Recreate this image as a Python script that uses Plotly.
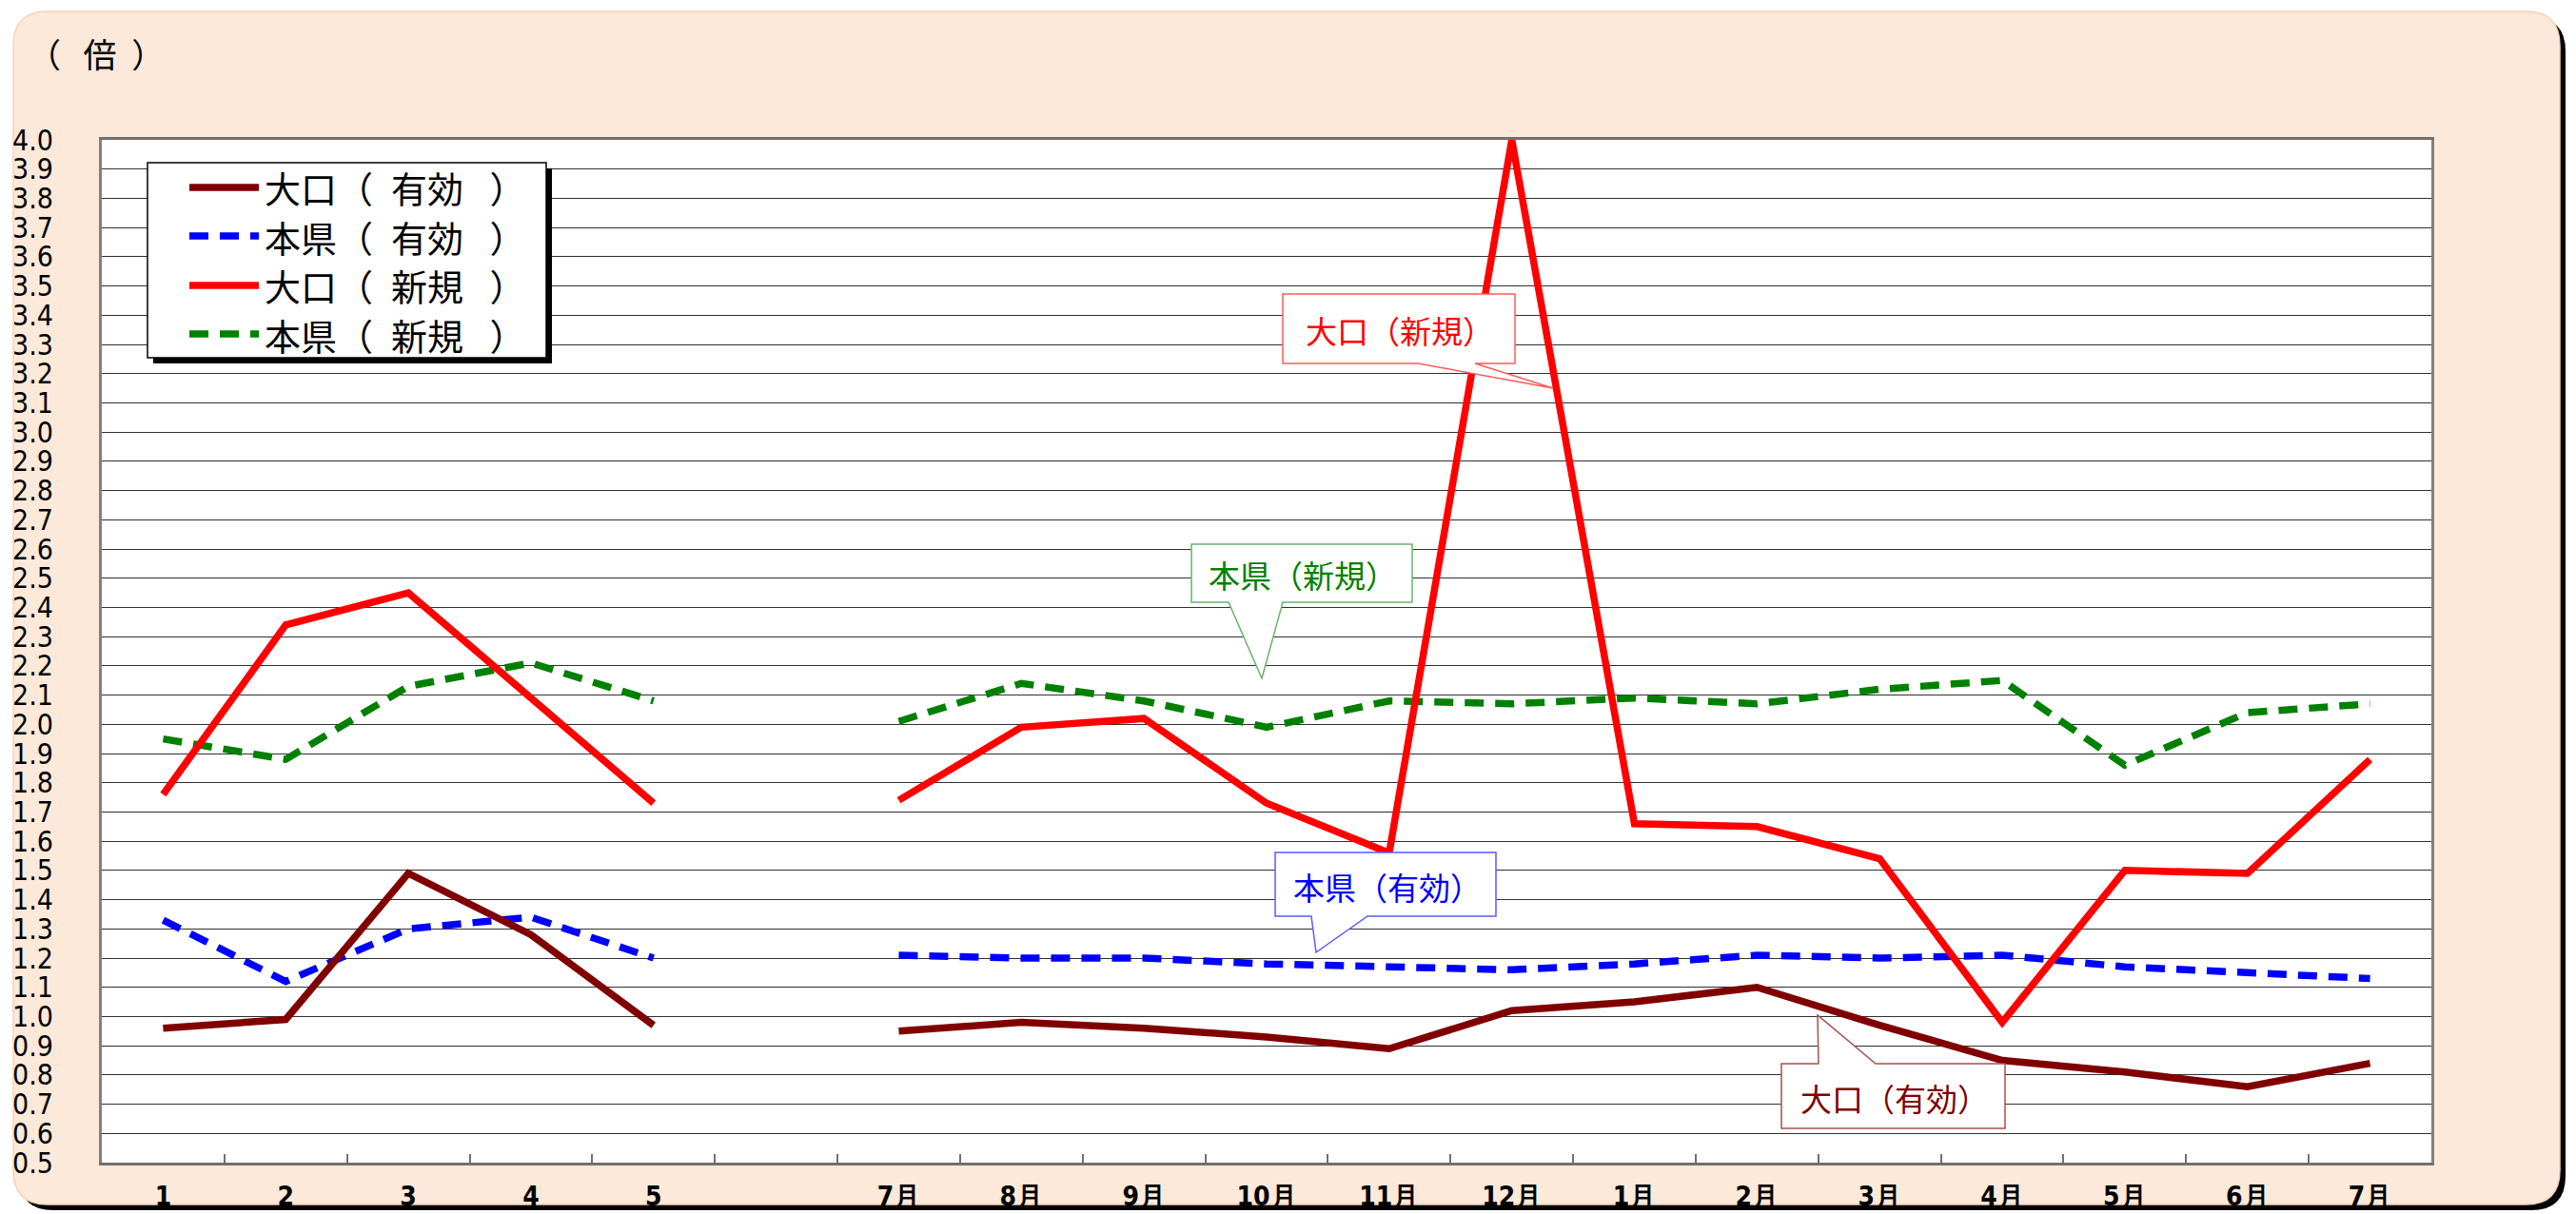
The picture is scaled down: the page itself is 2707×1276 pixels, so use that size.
import plotly.graph_objects as go

# ---------------- data ----------------
x_labels = ["1", "2", "3", "4", "5", "", "7月", "8月", "9月", "10月", "11月", "12月",
            "1月", "2月", "3月", "4月", "5月", "6月", "7月"]

oguchi_yuko = [0.96, 0.99, 1.49, 1.28, 0.97, None, 0.95, 0.98, 0.96, 0.93, 0.89, 1.02,
               1.05, 1.10, 0.97, 0.85, 0.81, 0.76, 0.84]
honken_yuko = [1.33, 1.12, 1.30, 1.34, 1.20, None, 1.21, 1.20, 1.20, 1.18, 1.17, 1.16,
               1.18, 1.21, 1.20, 1.21, 1.17, 1.15, 1.13]
oguchi_shinki = [1.76, 2.34, 2.45, 2.09, 1.73, None, 1.74, 1.99, 2.02, 1.73, 1.56, 4.00,
                 1.66, 1.65, 1.54, 0.98, 1.50, 1.49, 1.88]
honken_shinki = [1.95, 1.88, 2.13, 2.21, 2.08, None, 2.01, 2.14, 2.08, 1.99, 2.08, 2.07,
                 2.09, 2.07, 2.12, 2.15, 1.86, 2.04, 2.07]

series_names = ["大口（\u2002有効\u2002\u00a0）", "本県（\u2002有効\u2002\u00a0）",
                "大口（\u2002新規\u2002\u00a0）", "本県（\u2002新規\u2002\u00a0）"]
callout_texts = ["大口（新規）", "本県（新規）", "本県（有効）", "大口（有効）"]
unit_label = "（\u00a0\u00a0\u00a0倍\u00a0\u00a0）"

# ---------------- layout geometry (pixels) ----------------
W, H = 2707, 1276
PL, PR, PT, PB = 107, 2555, 147, 1222


def px(x):
    return (x - PL) / (PR - PL)


def py(y):
    return (PB - y) / (PB - PT)


def path(points):
    return "M " + " L ".join(f"{px(x):.5f},{py(y):.5f}" for x, y in points) + " Z"


def rrect(x0, y0, x1, y1, r):
    P = lambda x, y: f"{px(x):.5f},{py(y):.5f}"
    return ("M " + P(x0 + r, y0) + " L " + P(x1 - r, y0) + " Q " + P(x1, y0) + " " + P(x1, y0 + r)
            + " L " + P(x1, y1 - r) + " Q " + P(x1, y1) + " " + P(x1 - r, y1)
            + " L " + P(x0 + r, y1) + " Q " + P(x0, y1) + " " + P(x0, y1 - r)
            + " L " + P(x0, y0 + r) + " Q " + P(x0, y0) + " " + P(x0 + r, y0) + " Z")


xs = list(range(len(x_labels)))
colors = {"oy": "#800000", "hy": "#0000FF", "os": "#FF0000", "hs": "#008000"}
DASH = "20px,12px"
LW = 7.5

fig = go.Figure()
fig.add_trace(go.Scatter(x=xs, y=honken_shinki, mode="lines", name=series_names[3],
                         line=dict(color=colors["hs"], width=LW, dash=DASH), showlegend=False))
fig.add_trace(go.Scatter(x=xs, y=honken_yuko, mode="lines", name=series_names[1],
                         line=dict(color=colors["hy"], width=LW, dash=DASH), showlegend=False))
fig.add_trace(go.Scatter(x=xs, y=oguchi_yuko, mode="lines", name=series_names[0],
                         line=dict(color=colors["oy"], width=LW), showlegend=False))
fig.add_trace(go.Scatter(x=xs, y=oguchi_shinki, mode="lines", name=series_names[2],
                         line=dict(color=colors["os"], width=LW), showlegend=False))

shapes = []
annotations = []

# panel with shadow
shapes.append(dict(type="path", xref="paper", yref="paper", layer="below",
                   path=rrect(20, 18, 2696, 1272, 36), fillcolor="#000000", line=dict(width=0)))
shapes.append(dict(type="path", xref="paper", yref="paper", layer="below",
                   path=rrect(14, 12, 2690, 1266, 36), fillcolor="#FDE9D9",
                   line=dict(color="#F6D2B6", width=1.5)))
# plot area background
shapes.append(dict(type="rect", xref="paper", yref="paper", layer="below",
                   x0=0, x1=1, y0=0, y1=1, fillcolor="#FFFFFF", line=dict(width=0)))

# unit label
annotations.append(dict(xref="paper", yref="paper", x=px(27), y=py(55), xanchor="left",
                        yanchor="middle", showarrow=False, text=unit_label,
                        font=dict(size=35, color="#000000", family="Noto Sans CJK JP")))

# legend (manual)
shapes.append(dict(type="rect", xref="paper", yref="paper", x0=px(161), x1=px(580),
                   y0=py(177), y1=py(382), fillcolor="#000000", line=dict(width=0)))
shapes.append(dict(type="rect", xref="paper", yref="paper", x0=px(155), x1=px(574),
                   y0=py(171), y1=py(376), fillcolor="#FFFFFF",
                   line=dict(color="#000000", width=1.5)))
leg_rows = [(series_names[0], colors["oy"], "solid", 197),
            (series_names[1], colors["hy"], DASH, 248),
            (series_names[2], colors["os"], "solid", 300),
            (series_names[3], colors["hs"], DASH, 351)]
for name, col, dash, yy in leg_rows:
    shapes.append(dict(type="line", xref="paper", yref="paper", x0=px(199), x1=px(272),
                       y0=py(yy), y1=py(yy), line=dict(color=col, width=LW, dash=dash)))
    annotations.append(dict(xref="paper", yref="paper", x=px(276), y=py(yy), xanchor="left",
                            yanchor="middle", showarrow=False, text=name,
                            font=dict(size=38, color="#000000", family="Noto Sans CJK JP")))

# callouts
callouts = [
    (callout_texts[0], colors["os"], "#FF5A5A",
     [(1348, 309), (1592, 309), (1592, 382), (1550, 382), (1632, 408), (1490, 382), (1348, 382)],
     (1471, 347)),
    (callout_texts[1], colors["hs"], "#6AB36A",
     [(1252, 572), (1484, 572), (1484, 633), (1348, 633), (1326, 713), (1291, 633), (1252, 633)],
     (1369, 604)),
    (callout_texts[2], colors["hy"], "#5A5AFF",
     [(1340, 896), (1572, 896), (1572, 963), (1437, 963), (1383, 1001), (1378, 963), (1340, 963)],
     (1458, 932)),
    (callout_texts[3], colors["oy"], "#A65050",
     [(1872, 1118), (1911, 1118), (1910, 1067), (1971, 1118), (2107, 1118), (2107, 1186),
      (1872, 1186)],
     (1991, 1154)),
]
for txt, tcol, bcol, pts, (cx, cy) in callouts:
    shapes.append(dict(type="path", xref="paper", yref="paper", path=path(pts),
                       fillcolor="#FFFFFF", line=dict(color=bcol, width=1.5)))
    annotations.append(dict(xref="paper", yref="paper", x=px(cx), y=py(cy), xanchor="center",
                            yanchor="middle", showarrow=False, text=txt,
                            font=dict(size=33, color=tcol, family="Noto Sans CJK JP")))

fig.update_layout(
    width=W, height=H,
    margin=dict(l=PL, r=W - PR, t=PT, b=H - PB, pad=0, autoexpand=False),
    paper_bgcolor="#FFFFFF",
    plot_bgcolor="#FFFFFF",
    font=dict(family="Noto Sans CJK JP", color="#000000"),
    showlegend=False,
    shapes=shapes,
    annotations=annotations,
    xaxis=dict(
        automargin=False,
        range=[-0.5, len(x_labels) - 0.5],
        tickmode="array", tickvals=xs, ticktext=x_labels,
        ticks="", showgrid=False, zeroline=False,
        showline=True, linecolor="#707070", linewidth=3, mirror=True,
        ticklabelstandoff=8,
        tickfont=dict(family="Liberation Sans Narrow, DejaVu Sans Condensed, sans-serif",
                      size=28, color="#000000", weight="bold"),
        minor=dict(tickmode="array", tickvals=[i + 0.5 for i in range(len(x_labels) - 1)],
                   ticks="inside", ticklen=9, tickwidth=1.5, tickcolor="#707070",
                   showgrid=False),
        fixedrange=True,
    ),
    yaxis=dict(
        automargin=False,
        range=[0.5, 4.0], tickmode="linear", tick0=0.5, dtick=0.1, tickformat=".1f",
        showgrid=True, gridcolor="#303030", gridwidth=1.2, zeroline=False,
        showline=True, linecolor="#808080", linewidth=3, mirror=True,
        ticks="", ticklabelstandoff=42,
        tickfont=dict(family="Liberation Sans Narrow, DejaVu Sans Condensed, sans-serif",
                      size=30, color="#000000"),
        fixedrange=True,
    ),
)

fig.write_html("out.html", config={"displayModeBar": False},
               post_script="document.body.style.margin='0px';")
